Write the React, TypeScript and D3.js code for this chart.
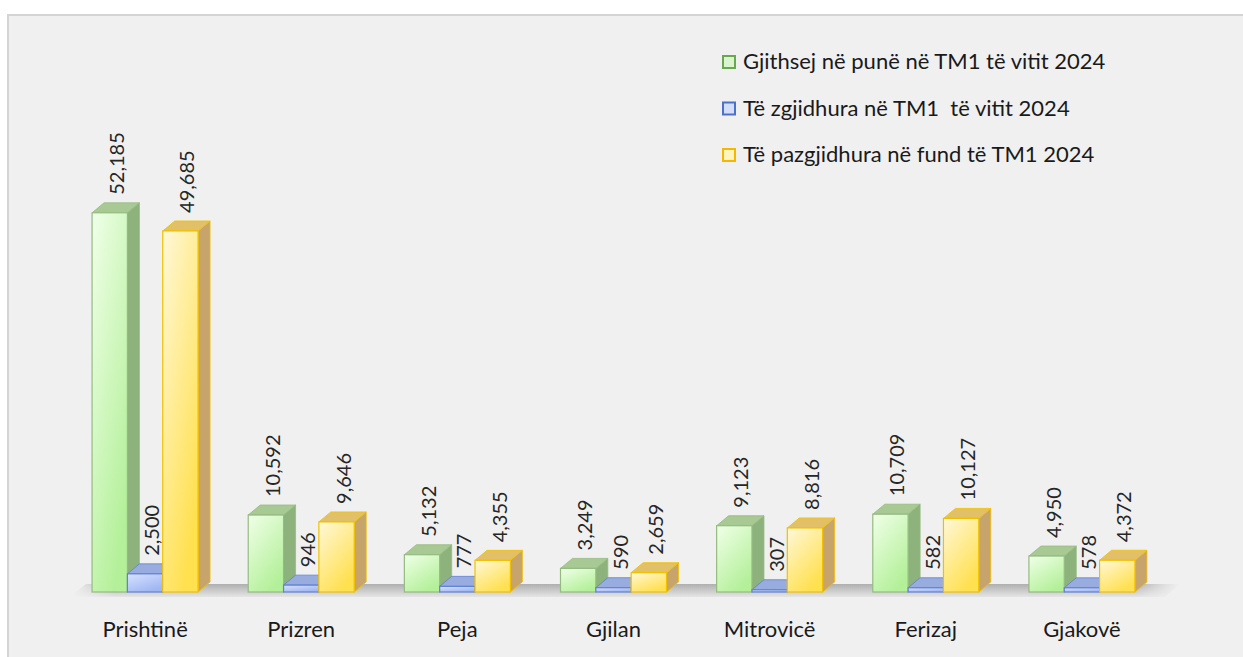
import React from 'react';
import * as d3 from 'd3';

const width = 1243;
const height = 657;
const font = 'Lato, "Open Sans", sans-serif';

const cities = ['Prishtinë', 'Prizren', 'Peja', 'Gjilan', 'Mitrovicë', 'Ferizaj', 'Gjakovë'];
const seriesNames = [
  'Gjithsej në punë në TM1 të vitit 2024',
  'Të zgjidhura në TM1  të vitit 2024',
  'Të pazgjidhura në fund të TM1 2024'
];
const totalCases = [52185, 10592, 5132, 3249, 9123, 10709, 4950];
const solvedCases = [2500, 946, 777, 590, 307, 582, 578];
const unsolvedCases = [49685, 9646, 4355, 2659, 8816, 10127, 4372];
const seriesValues = [totalCases, solvedCases, unsolvedCases];

// colours for each series: front gradient, border, side, top
const palette = [
  { light: '#f0ffe8', dark: '#b4f09a', stroke: '#94bb80', side: '#8db27c', top: '#a8c894', key: '#6aa84f', keyFill: '#d9f5cf' },
  { light: '#d8e2ff', dark: '#9fb6f2', stroke: '#5f82d2', side: '#6f8ed4', top: '#98acdf', key: '#4a72c8', keyFill: '#d4defa' },
  { light: '#fff8d8', dark: '#ffe04e', stroke: '#f0c000', side: '#c6a46c', top: '#e2c068', key: '#f5b800', keyFill: '#fff4c0' }
];

const margin = { left: 67, right: 83, base: 592 };
const depthX = 12;
const depthY = 10;

const fmt = d3.format(',');

export default function App() {
  const x = d3.scaleBand().domain(cities).range([margin.left, width - margin.right]).padding(0);
  const groupWidth = 106;
  const xSub = d3.scaleBand().domain(['0', '1', '2']).range([0, groupWidth]).padding(0);
  const y = d3.scaleLinear().domain([0, 60000]).range([margin.base, 156]);

  const floorLeft = margin.left + 3;
  const floorRight = width - margin.right + 4;
  const floorPts = `${floorLeft},${margin.base + 5} ${floorRight},${margin.base + 5} ${floorRight + depthX + 4},${margin.base - depthY + 2} ${floorLeft + depthX + 4},${margin.base - depthY + 2}`;

  return (
    <svg width={width} height={height} style={{ position: 'absolute', left: 0, top: 0, display: 'block' }}>
      <defs>
        {palette.map((p, i) => (
          <linearGradient key={i} id={`front${i}`} x1="0" y1="0" x2="0.6" y2="1">
            <stop offset="0" stopColor={p.light} />
            <stop offset="1" stopColor={p.dark} />
          </linearGradient>
        ))}
        <linearGradient id="floorFade" x1="0" y1="0" x2="1" y2="0">
          <stop offset="0" stopColor="#b8b8b8" stopOpacity="0" />
          <stop offset="0.04" stopColor="#a4a4a4" stopOpacity="0.95" />
          <stop offset="0.96" stopColor="#a4a4a4" stopOpacity="0.95" />
          <stop offset="1" stopColor="#b8b8b8" stopOpacity="0" />
        </linearGradient>
        <linearGradient id="floorShade" x1="0" y1="0" x2="0" y2="1">
          <stop offset="0" stopColor="#f0f0f0" stopOpacity="0.1" />
          <stop offset="1" stopColor="#f0f0f0" stopOpacity="0.85" />
        </linearGradient>
      </defs>
      <rect x={0} y={0} width={width} height={height} fill="#ffffff" />
      <rect x={8} y={15} width={width + 10} height={height} fill="#f0f0f0" stroke="#d4d4d4" strokeWidth={2} />

      {/* floor */}
      <polygon points={floorPts} fill="url(#floorFade)" />
      <polygon points={floorPts} fill="url(#floorShade)" />

      {cities.map((city, ci) => {
        const gx = (x(city) as number) + (x.bandwidth() - groupWidth) / 2;
        return (
          <g key={city}>
            {seriesValues.map((vals, si) => {
              const p = palette[si];
              const x0 = gx + (xSub(String(si)) as number);
              const x1 = x0 + xSub.bandwidth();
              const yt = y(vals[ci]);
              const yb = y(0);
              return (
                <g key={si}>
                  <polygon
                    points={`${x1},${yt} ${x1 + depthX},${yt - depthY} ${x1 + depthX},${yb - depthY} ${x1},${yb}`}
                    fill={p.side}
                    stroke={p.stroke}
                    strokeWidth={0.8}
                  />
                  <polygon
                    points={`${x0},${yt} ${x0 + depthX},${yt - depthY} ${x1 + depthX},${yt - depthY} ${x1},${yt}`}
                    fill={p.top}
                    stroke={p.stroke}
                    strokeWidth={0.8}
                  />
                  <rect
                    x={x0}
                    y={yt}
                    width={x1 - x0}
                    height={yb - yt}
                    fill={`url(#front${si})`}
                    stroke={p.stroke}
                    strokeWidth={1.2}
                  />
                </g>
              );
            })}
            {seriesValues.map((vals, si) => {
              const x0 = gx + (xSub(String(si)) as number);
              const cx = x0 + xSub.bandwidth() / 2 + depthX / 2;
              const ty = y(vals[ci]) - depthY - 8;
              return (
                <text
                  key={'l' + si}
                  transform={`translate(${cx},${ty}) rotate(-90)`}
                  dominantBaseline="central"
                  fontFamily={font}
                  fontSize={20}
                  fill="#262626"
                >
                  {fmt(vals[ci])}
                </text>
              );
            })}
            <text
              x={(x(city) as number) + x.bandwidth() / 2}
              y={637}
              textAnchor="middle"
              fontFamily={font}
              fontSize={22}
              fill="#1a1a1a"
            >
              {city}
            </text>
          </g>
        );
      })}

      {/* legend */}
      {seriesNames.map((name, i) => (
        <g key={name} transform={`translate(722,${62 + i * 46.5})`}>
          <rect x={1} y={-6} width={12} height={12} fill={palette[i].keyFill} stroke={palette[i].key} strokeWidth={2} />
          <text x={21} y={7} fontFamily={font} fontSize={22} fill="#1a1a1a" style={{ whiteSpace: 'pre' }}>
            {name}
          </text>
        </g>
      ))}
    </svg>
  );
}
